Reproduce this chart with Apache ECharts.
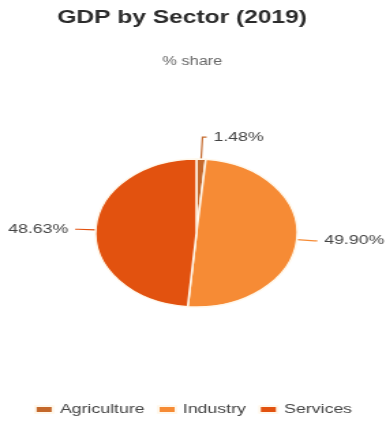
<!DOCTYPE html>
<html>
<head>
<meta charset="utf-8">
<title>GDP by Sector (2019)</title>
<script src="https://cdn.jsdelivr.net/npm/echarts@6/dist/echarts.min.js"></script>
<style>
  html, body { margin: 0; padding: 0; background: #fff; overflow: hidden; }
  /* the reference is stretched sideways, so draw narrow and widen with css */
  #main { width: 283px; height: 421px; transform: scaleX(1.364); transform-origin: 0 0; }
</style>
</head>
<body>
<div id="main"></div>
<script>
const sectors = ['Agriculture', 'Industry', 'Services'];
const shares = [1.48, 49.90, 48.63];
const sectorColors = ['#c4682b', '#f68b35', '#e2520f'];

const chart = echarts.init(document.getElementById('main'));

// thin slices get a longer leader so the label clears the title area
const longLine = { length: 22, length2: 3 };

chart.setOption({
  color: sectorColors,
  textStyle: { fontFamily: 'Liberation Sans, Arial, sans-serif' },
  title: [
    {
      text: 'GDP by Sector (2019)',
      left: 37,
      top: 4,
      textStyle: { fontSize: 18, fontWeight: 'bold', color: '#2b2b2b' }
    },
    {
      text: '% share',
      left: 114,
      top: 51,
      textStyle: { fontSize: 12, fontWeight: 'normal', color: '#666' }
    }
  ],
  legend: {
    bottom: 0,
    left: 'center',
    itemWidth: 13,
    itemHeight: 7,
    itemGap: 9,
    icon: 'rect',
    textStyle: { fontSize: 13, color: '#444' },
    data: sectors
  },
  series: [{
    type: 'pie',
    center: [144, 233],
    radius: 74,
    startAngle: 90,
    itemStyle: { borderColor: '#fff8ec', borderWidth: 1.5 },
    label: {
      formatter: p => p.value.toFixed(2) + '%',
      fontSize: 13,
      color: '#444',
      overflow: 'none'
    },
    labelLine: { length: 13, length2: 2, lineStyle: { width: 1.2 } },
    data: sectors.map((name, i) => {
      const item = { name: name, value: shares[i] };
      if (shares[i] < 5) item.labelLine = longLine;
      return item;
    })
  }]
});
</script>
</body>
</html>
